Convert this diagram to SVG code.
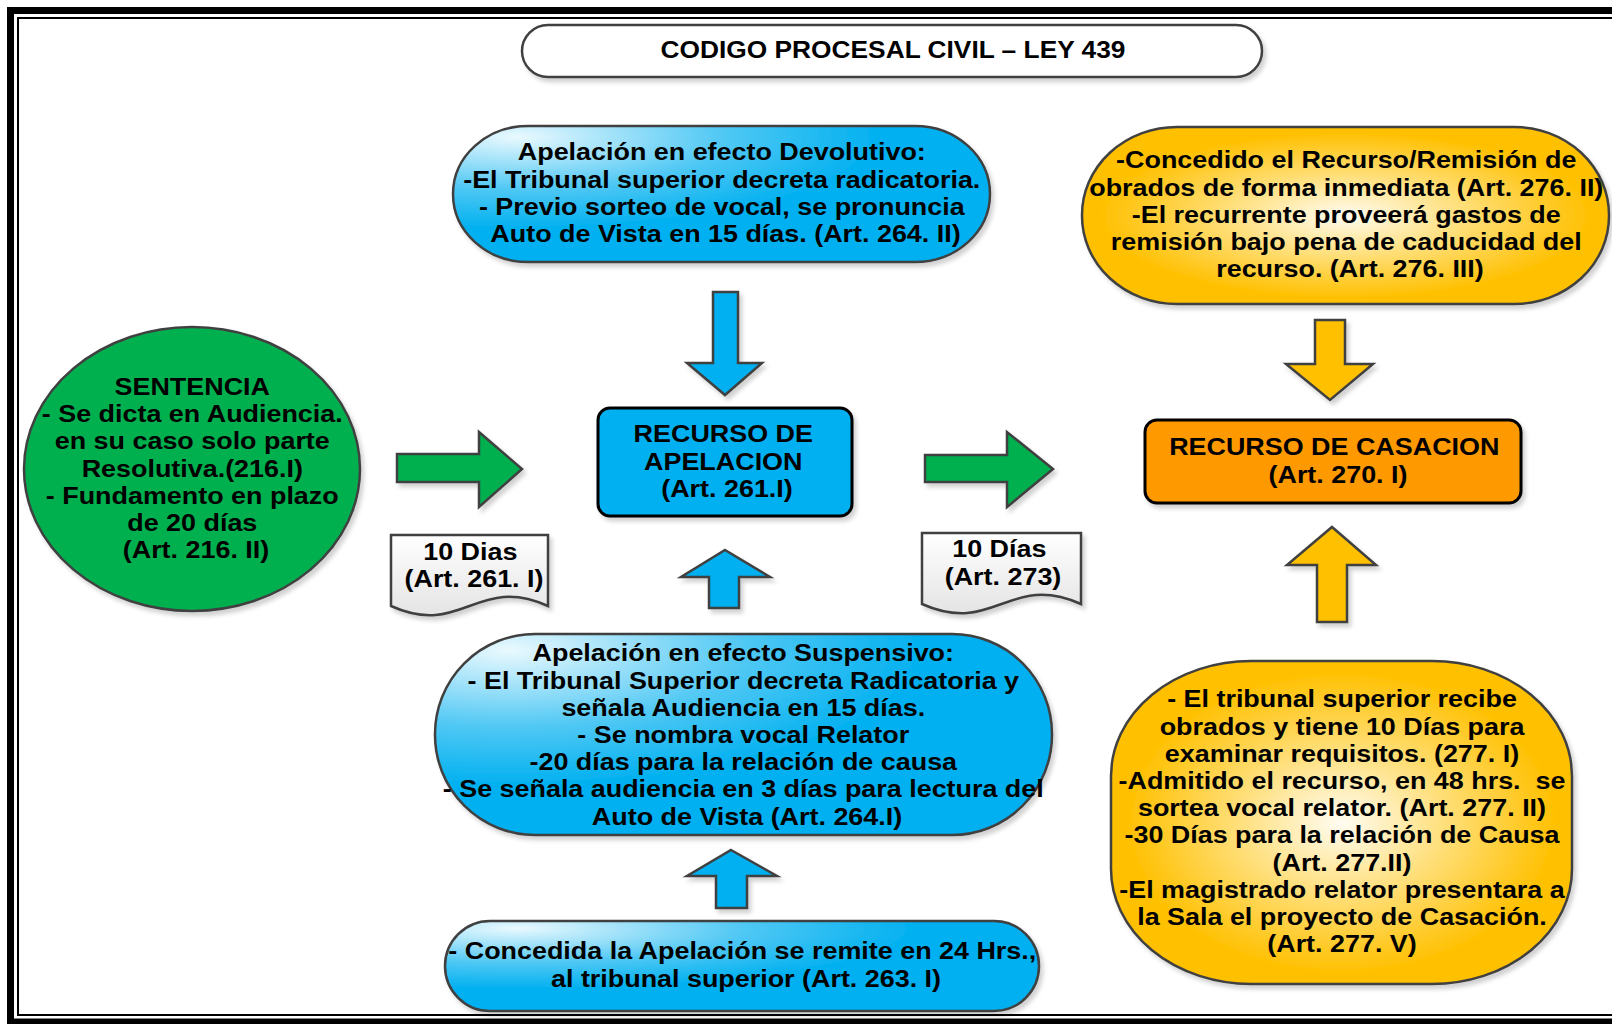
<svg xmlns="http://www.w3.org/2000/svg" width="1612" height="1024" viewBox="0 0 1612 1024">
<defs>
<style>
.t{font-family:"Liberation Sans",Arial,sans-serif;font-weight:bold;font-size:23.5px;fill:#000;text-anchor:middle}
.sh{stroke:#404040;stroke-width:2.5}
.box{stroke:#000;stroke-width:3}
.arr{stroke:#404040;stroke-width:2.5;stroke-linejoin:miter}
</style>
<filter id="ds" x="-10%" y="-10%" width="125%" height="130%">
<feDropShadow dx="3" dy="4" stdDeviation="2" flood-color="#000" flood-opacity="0.18"/>
</filter>
<radialGradient id="blueG" cx="0.12" cy="0.08" r="0.85">
<stop offset="0" stop-color="#EAF9FE"/>
<stop offset="0.45" stop-color="#50C8F4"/>
<stop offset="0.8" stop-color="#00B0F0"/>
</radialGradient>
<radialGradient id="yelG" cx="0.5" cy="0.5" r="0.55">
<stop offset="0" stop-color="#FFFCF2"/>
<stop offset="0.45" stop-color="#FFDC6E"/>
<stop offset="0.85" stop-color="#FFC000"/>
</radialGradient>
<linearGradient id="docG" x1="0" y1="0" x2="0" y2="1">
<stop offset="0" stop-color="#FFFFFF"/>
<stop offset="1" stop-color="#E4E4E4"/>
</linearGradient>
</defs>
<rect x="0" y="0" width="1612" height="1024" fill="#fff"/>
<g id="frame" fill="none" stroke="#000">
<rect x="10.5" y="10.5" width="1700" height="1011.5" stroke-width="7"/>
<rect x="18" y="18" width="1700" height="997" stroke-width="2"/>
</g>

<g id="title">
<rect x="522" y="25" width="740" height="52" rx="26" ry="26" fill="#fff" class="sh" filter="url(#ds)"/>
<g transform="translate(893,0) scale(1.12,1)"><text class="t" font-size="24"><tspan x="0" y="58.5">CODIGO PROCESAL CIVIL – LEY 439</tspan></text></g>
</g>

<g id="devolutivo">
<rect x="453" y="126" width="537" height="136" rx="75" ry="68" fill="url(#blueG)" class="sh" filter="url(#ds)"/>
<g transform="translate(725.5,0) scale(1.145,1)"><text class="t">
<tspan x="0" y="160.5">Apelación en efecto Devolutivo:</tspan>
<tspan x="0" y="187.7">-El Tribunal superior decreta radicatoria.</tspan>
<tspan x="0" y="214.9">- Previo sorteo de vocal, se pronuncia</tspan>
<tspan x="0" y="242.1">Auto de Vista en 15 días. (Art. 264. II)</tspan>
</text></g>
</g>

<g id="remision">
<rect x="1082" y="127" width="527" height="177" rx="95" ry="88" fill="url(#yelG)" class="sh" filter="url(#ds)"/>
<g transform="translate(1350,0) scale(1.145,1)"><text class="t">
<tspan x="0" y="168.5">-Concedido el Recurso/Remisión de</tspan>
<tspan x="0" y="195.7">obrados de forma inmediata (Art. 276. II)</tspan>
<tspan x="0" y="222.9">-El recurrente proveerá gastos de</tspan>
<tspan x="0" y="250.1">remisión bajo pena de caducidad del</tspan>
<tspan x="0" y="277.3">recurso. (Art. 276. III)</tspan>
</text></g>
</g>

<g id="sentencia">
<ellipse cx="192" cy="469" rx="168" ry="142" fill="#00B050" class="sh" filter="url(#ds)"/>
<g transform="translate(196,0) scale(1.145,1)"><text class="t">
<tspan x="0" y="395">SENTENCIA</tspan>
<tspan x="0" y="422.2">- Se dicta en Audiencia.</tspan>
<tspan x="0" y="449.4">en su caso solo parte</tspan>
<tspan x="0" y="476.6">Resolutiva.(216.I)</tspan>
<tspan x="0" y="503.8">- Fundamento en plazo</tspan>
<tspan x="0" y="531">de 20 días</tspan>
<tspan x="0" y="558.2">(Art. 216. II)</tspan>
</text></g>
</g>

<g id="apelacion">
<rect x="598" y="408" width="254" height="108" rx="12" ry="12" fill="#00B0F0" class="box" filter="url(#ds)"/>
<g transform="translate(727,0) scale(1.145,1)"><text class="t">
<tspan x="0" y="442.5">RECURSO DE</tspan>
<tspan x="0" y="469.7">APELACION</tspan>
<tspan x="0" y="496.9">(Art. 261.I)</tspan>
</text></g>
</g>

<g id="casacion">
<rect x="1145" y="420" width="376" height="83" rx="12" ry="12" fill="#FF9900" class="box" filter="url(#ds)"/>
<g transform="translate(1338,0) scale(1.145,1)"><text class="t">
<tspan x="0" y="455.5">RECURSO DE CASACION</tspan>
<tspan x="0" y="482.7">(Art. 270. I)</tspan>
</text></g>
</g>

<g id="plazo1">
<path d="M391,535 H548 V606 C477,574 462,638 391,606 Z" fill="url(#docG)" class="sh" filter="url(#ds)"/>
<g transform="translate(474,0) scale(1.145,1)"><text class="t">
<tspan x="0" y="560.5">10 Dias</tspan>
<tspan x="0" y="587.5">(Art. 261. I)</tspan>
</text></g>
</g>

<g id="plazo2">
<path d="M922,533 H1081 V604 C1009,572 994,636 922,604 Z" fill="url(#docG)" class="sh" filter="url(#ds)"/>
<g transform="translate(1003,0) scale(1.145,1)"><text class="t">
<tspan x="0" y="557.5">10 Días</tspan>
<tspan x="0" y="584.7">(Art. 273)</tspan>
</text></g>
</g>

<g id="suspensivo">
<rect x="435" y="634" width="617" height="201" rx="100" ry="100" fill="url(#blueG)" class="sh" filter="url(#ds)"/>
<g transform="translate(747,0) scale(1.145,1)"><text class="t">
<tspan x="0" y="661.5">Apelación en efecto Suspensivo:</tspan>
<tspan x="0" y="688.7">- El Tribunal Superior decreta Radicatoria y</tspan>
<tspan x="0" y="715.9">señala Audiencia en 15 días.</tspan>
<tspan x="0" y="743.1">- Se nombra vocal Relator</tspan>
<tspan x="0" y="770.3">-20 días para la relación de causa</tspan>
<tspan x="0" y="797.5">- Se señala audiencia en 3 días para lectura del</tspan>
<tspan x="0" y="824.7">Auto de Vista (Art. 264.I)</tspan>
</text></g>
</g>

<g id="concedida">
<rect x="445" y="921" width="594" height="90" rx="45" ry="45" fill="url(#blueG)" class="sh" filter="url(#ds)"/>
<g transform="translate(746,0) scale(1.145,1)"><text class="t">
<tspan x="0" y="959.5">- Concedida la Apelación se remite en 24 Hrs.,</tspan>
<tspan x="0" y="986.7">al tribunal superior (Art. 263. I)</tspan>
</text></g>
</g>

<g id="tribunal">
<rect x="1111" y="661" width="461" height="323" rx="140" ry="115" fill="url(#yelG)" class="sh" filter="url(#ds)"/>
<g transform="translate(1342,0) scale(1.145,1)"><text class="t" xml:space="preserve"><tspan x="0" y="707.5">- El tribunal superior recibe</tspan><tspan x="0" y="734.7">obrados y tiene 10 Días para</tspan><tspan x="0" y="761.9">examinar requisitos. (277. I)</tspan><tspan x="0" y="789.1">-Admitido el recurso, en 48 hrs.  se</tspan><tspan x="0" y="816.3">sortea vocal relator. (Art. 277. II)</tspan><tspan x="0" y="843.5">-30 Días para la relación de Causa</tspan><tspan x="0" y="870.7">(Art. 277.II)</tspan><tspan x="0" y="897.9">-El magistrado relator presentara a</tspan><tspan x="0" y="925.1">la Sala el proyecto de Casación.</tspan><tspan x="0" y="952.3">(Art. 277. V)</tspan></text></g>
</g>

<g id="connectors" filter="url(#ds)">
<polygon class="arr" fill="#00B050" points="397,454 479,454 479,432 522,469 479,507 479,482 397,482"/>
<polygon class="arr" fill="#00B050" points="925,455 1007,455 1007,432 1053,469 1007,507 1007,482 925,482"/>
<polygon class="arr" fill="#00B0F0" points="713,292 738,292 738,363 762,363 725,395 687,363 713,363"/>
<polygon class="arr" fill="#00B0F0" points="725,550 770,577 739,577 739,608 709,608 709,577 681,577"/>
<polygon class="arr" fill="#00B0F0" points="731,850 777,876 747,876 747,908 716,908 716,876 687,876"/>
<polygon class="arr" fill="#FFC000" points="1315,320 1345,320 1345,364 1373,364 1330,400 1286,364 1315,364"/>
<polygon class="arr" fill="#FFC000" points="1332,527 1376,565 1347,565 1347,622 1317,622 1317,565 1287,565"/>
</g>
</svg>
